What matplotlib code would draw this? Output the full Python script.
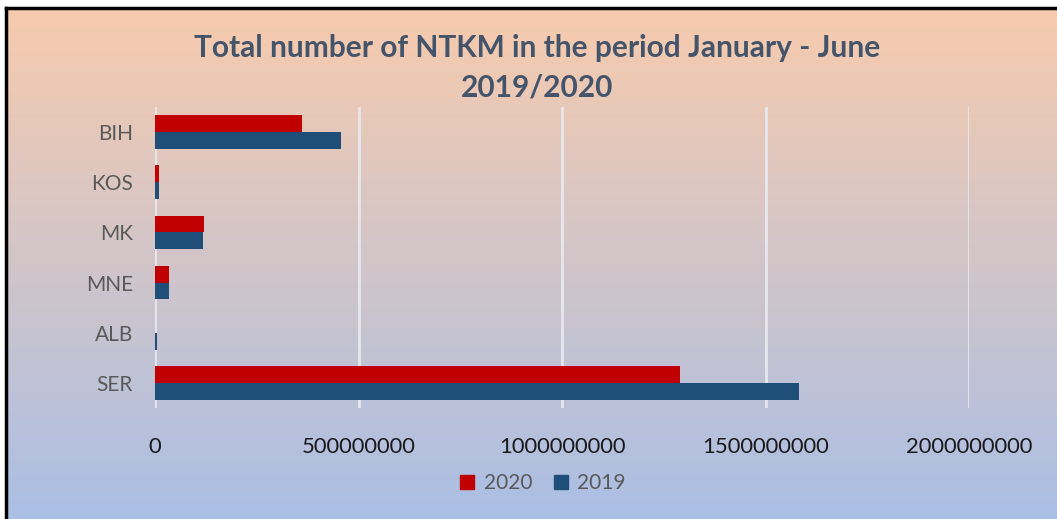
import numpy as np
import matplotlib.pyplot as plt
from matplotlib.lines import Line2D

# values (NTKM)
countries = ['SER', 'ALB', 'MNE', 'MK', 'KOS', 'BIH']
ntkm_2020 = [1289e6, 0, 34e6, 121e6, 9e6, 361e6]
ntkm_2019 = [1583e6, 6e6, 34e6, 118e6, 9e6, 457e6]
x_ticks = [0, 500000000, 1000000000, 1500000000, 2000000000]

red = '#C00000'
blue = '#1F4E79'
font = ['Lato', 'DejaVu Sans']

fig = plt.figure(figsize=(10.57, 5.19), dpi=100)
fig.patch.set_facecolor('white')

# gradient background, peach at top to light blue at bottom
bg = fig.add_axes([0, 0, 1, 1], zorder=-1)
top = np.array([248, 203, 173]) / 255
bot = np.array([170, 191, 229]) / 255
t = np.linspace(0, 1, 256)[:, None]
grad = top * (1 - t) + bot * t
bg.imshow(grad[:, None, :], aspect='auto', extent=[6 / 1057, 1, 0, 1 - 8 / 519])
bg.set_xlim(0, 1)
bg.set_ylim(0, 1)
bg.axis('off')
# black frame on top and left
bg.add_line(Line2D([6 / 1057, 1], [1 - 8 / 519] * 2, color='black', lw=2.5))
bg.add_line(Line2D([6 / 1057] * 2, [0, 1 - 8 / 519], color='black', lw=2.5))

ax = fig.add_axes([155 / 1057, 1 - 408 / 519, (969 - 155) / 1057, (408 - 107) / 519])
ax.patch.set_alpha(0)

y = np.arange(len(countries))
h = 0.335
ax.barh(y + h / 2, ntkm_2020, height=h, color=red, label='2020', zorder=3)
ax.barh(y - h / 2, ntkm_2019, height=h, color=blue, label='2019', zorder=3)

ax.set_xlim(0, 2000000000)
ax.set_ylim(-0.5, len(countries) - 0.5)
ax.set_xticks(x_ticks)
ax.set_xticklabels([str(v) for v in x_ticks], fontsize=15.8, color='#1a1a1a', family=font)
ax.set_yticks(y)
ax.set_yticklabels(countries, fontsize=15, color='#595959', family=font)
ax.tick_params(axis='x', length=0, pad=21)
ax.tick_params(axis='y', length=0, pad=16)
ax.grid(axis='x', color='#E6E8EE', lw=2, zorder=1)
for s in ax.spines.values():
    s.set_visible(False)

fig.text(537 / 1057, 1 - 48 / 519, 'Total number of NTKM in the period January - June',
         ha='center', va='center', fontsize=21.5, fontweight='bold', color='#44546A', family=font)
fig.text(537 / 1057, 1 - 87 / 519, '2019/2020',
         ha='center', va='center', fontsize=21.5, fontweight='bold', color='#44546A', family=font)

handles = [Line2D([], [], marker='s', ls='', color=red, markersize=10),
           Line2D([], [], marker='s', ls='', color=blue, markersize=10)]
fig.legend(handles, ['2020', '2019'], loc='center', bbox_to_anchor=(543 / 1057, 1 - 483 / 519),
           ncol=2, frameon=False, handlelength=0.7, handletextpad=0.45, columnspacing=1.0,
           prop={'family': font, 'size': 15}, labelcolor='#595959')

fig.savefig('out.png', dpi=100)
